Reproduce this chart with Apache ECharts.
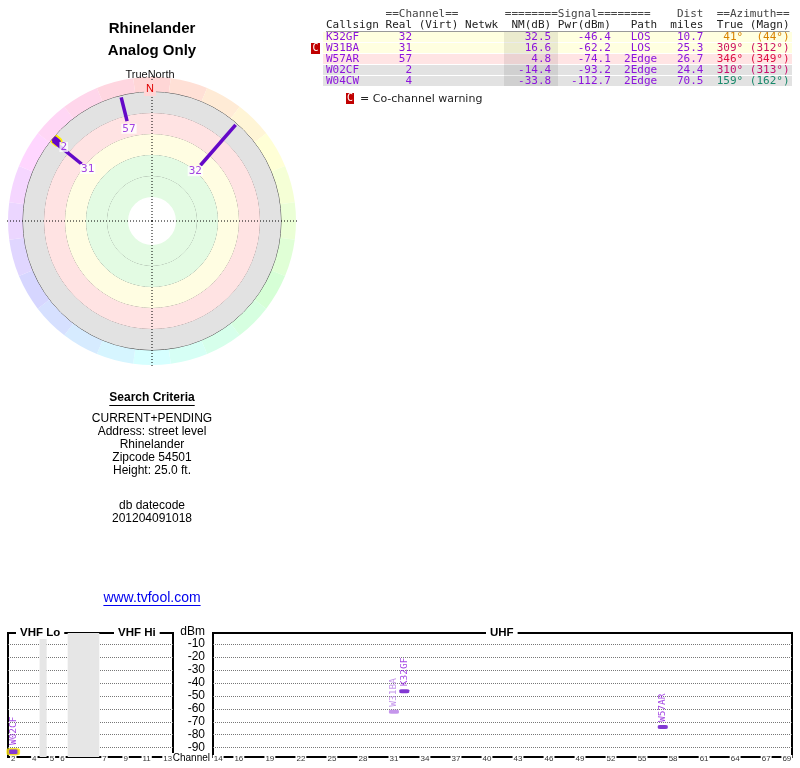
<!DOCTYPE html>
<html><head><meta charset="utf-8">
<script src="https://cdn.jsdelivr.net/npm/echarts@6/dist/echarts.min.js"></script>
<style>html,body{margin:0;padding:0;background:#fff}#c{width:800px;height:768px}</style>
</head><body><div id="c"></div>
<script>
// ---------------- data ----------------
const callsigns   = ['K32GF', 'W31BA', 'W57AR', 'W02CF', 'W04CW'];
const channels    = [32, 31, 57, 2, 4];
const nmDb        = [32.5, 16.6, 4.8, -14.4, -33.8];
const pwrDbm      = [-46.4, -62.2, -74.1, -93.2, -112.7];
const paths       = ['LOS', 'LOS', '2Edge', '2Edge', '2Edge'];
const distMiles   = [10.7, 25.3, 26.7, 24.4, 70.5];
const azTrue      = [41, 309, 346, 310, 159];
const azMagn      = [44, 312, 349, 313, 162];
const coChannel   = ['W31BA'];
const highlighted = ['W02CF'];
const nmRings     = [-20, 0, 20, 40, 60, 80];
const vhfTickChannels = [2, 4, 5, 6, 7, 9, 11, 13];
const uhfTickChannels = [14, 16, 19, 22, 25, 28, 31, 34, 37, 40, 43, 46, 49, 52, 55, 58, 61, 64, 67, 69];
const dbmTicks    = [-10, -20, -30, -40, -50, -60, -70, -80, -90];
const vhfGapsMHz  = [[72, 76], [88, 174]];
const searchLines = ['CURRENT+PENDING', 'Address: street level', 'Rhinelander', 'Zipcode 54501', 'Height: 25.0 ft.'];
const dbLines     = ['db datecode', '201204091018'];

// ---------------- styles ----------------
const rowBg   = ['#ffffe0', '#ffffe0', '#ffe4e4', '#e2e2e2', '#e2e2e2'];
const azColor = ['#d98200', '#cc1262', '#dd1042', '#c8106e', '#18886a'];
const LINE_PURPLE = '#6408c8';
const TEXT_PURPLE = '#8c14dc';
const LIGHT_PURPLE = '#b77ce6';
const MONO = "'DejaVu Sans Mono', monospace";
const SANS = "'Liberation Sans', Arial, sans-serif";
const CENTER = [152, 221];
const LINE_END_NM = -18.5;
const LABEL_INSET_DB = 7.5;
const FM_SQUEEZE = 68;
const DBM_MIN = -97.2, DBM_MAX = -1.5;

function compress(f) { return f >= 174 ? f - FM_SQUEEZE : f; }
function vhfPos(ch) {
  let f;
  if (ch <= 4) f = 54 + (ch - 2) * 6 + 3;
  else if (ch <= 6) f = 76 + (ch - 5) * 6 + 3;
  else f = 174 + (ch - 7) * 6 + 3;
  return compress(f);
}
const vhfTickPos = vhfTickChannels.map(vhfPos);
const vhfLabelMap = {};
vhfTickChannels.forEach((c, i) => { vhfLabelMap[vhfTickPos[i].toFixed(2)] = String(c); });

const cv = document.createElement('canvas').getContext('2d');
function tw(text, font) { cv.font = font; return cv.measureText(text).width; }
const monoFont = '11px ' + MONO;
const CW = tw('M'.repeat(70), monoFont) / 70;

const hueColors = Array.from({length: 24}, (_, i) => `hsl(${i * 15},100%,92%)`);

// ---------------- series ----------------
const series = [];
callsigns.forEach((cs, i) => {
  if (nmDb[i] <= nmRings[0]) return;
  const pts = [[nmDb[i], azTrue[i]], [LINE_END_NM, azTrue[i]]];
  const hl = highlighted.includes(cs);
  if (hl) series.push({type: 'line', coordinateSystem: 'polar', polarIndex: 1, data: pts, symbol: 'none', silent: true, z: 4,
    lineStyle: {color: '#ffee00', width: 10, cap: 'round'}});
  series.push({type: 'line', coordinateSystem: 'polar', polarIndex: 1, data: pts, symbol: 'none', silent: true, z: 5,
    lineStyle: {color: LINE_PURPLE, width: hl ? 6 : 3.5, cap: hl ? 'round' : 'butt'}});
});
series.push({
  type: 'scatter', coordinateSystem: 'polar', polarIndex: 1, symbolSize: 0, silent: true, z: 6,
  data: callsigns.map((cs, i) => ({value: [nmDb[i] + LABEL_INSET_DB, azTrue[i]], ch: channels[i]}))
                 .filter((d, i) => nmDb[i] > nmRings[0]),
  label: {show: true, position: 'inside', formatter: p => String(p.data.ch), color: TEXT_PURPLE,
    fontFamily: MONO, fontSize: 11, backgroundColor: '#fff', padding: [0, 1, -1, 1]}
});

// spectrum markers
const vhfData = [], uhfData = [];
callsigns.forEach((cs, i) => {
  if (pwrDbm[i] < DBM_MIN) return;
  const uhf = channels[i] >= 14;
  const co = coChannel.includes(cs);
  const hl = highlighted.includes(cs);
  const item = {
    value: [uhf ? channels[i] : vhfPos(channels[i]), pwrDbm[i]], name: cs,
    symbolSize: hl ? [11, 6] : [10, 4],
    itemStyle: {color: co ? LIGHT_PURPLE : LINE_PURPLE, borderColor: hl ? '#ffee00' : 'transparent', borderWidth: hl ? 2 : 0},
    label: {color: co ? LIGHT_PURPLE : TEXT_PURPLE}
  };
  (uhf ? uhfData : vhfData).push(item);
});
const markerLabel = {show: true, formatter: p => p.name, rotate: 90, position: 'top', distance: 3,
  align: 'left', verticalAlign: 'middle', fontFamily: MONO, fontSize: 9.5};
series.push({type: 'scatter', xAxisIndex: 0, yAxisIndex: 0, symbol: 'roundRect', data: vhfData, label: markerLabel, z: 5, silent: true,
  markArea: {silent: true, itemStyle: {color: '#e6e6e6'},
    data: vhfGapsMHz.map(g => [{xAxis: compress(g[0])}, {xAxis: compress(g[1])}])}});
series.push({type: 'scatter', xAxisIndex: 1, yAxisIndex: 1, symbol: 'roundRect', data: uhfData, label: markerLabel, z: 5, silent: true});

// ---------------- graphics (texts, table) ----------------
const g = [];
function text(x, y, str, opt) {
  g.push(Object.assign({type: 'text', x, y, silent: true, z: 20,
    style: Object.assign({text: str, fill: '#000', font: '12px ' + SANS, textAlign: 'center', textVerticalAlign: 'middle'}, opt || {})}));
}
function underline(cx, y, str, font, color) {
  const w = tw(str, font);
  g.push({type: 'line', silent: true, z: 20, shape: {x1: cx - w / 2, y1: y, x2: cx + w / 2, y2: y}, style: {stroke: color, lineWidth: 1}});
}
text(152, 29, 'Rhinelander', {font: 'bold 15px ' + SANS});
text(152, 51, 'Analog Only', {font: 'bold 15px ' + SANS});
text(150, 75, 'TrueNorth', {font: '11px ' + SANS, fill: '#111'});
text(150, 89, 'N', {font: '11px ' + SANS, fill: '#e00000', backgroundColor: hueColors[0], padding: [2, 2, 1, 2]});
text(152, 398, 'Search Criteria', {font: 'bold 12px ' + SANS});
underline(152, 405.5, 'Search Criteria', 'bold 12px ' + SANS, '#000');
searchLines.forEach((s, i) => text(152, 419 + i * 13, s));
dbLines.forEach((s, i) => text(152, 506 + i * 13, s));
text(152, 598, 'www.tvfool.com', {font: '14px ' + SANS, fill: '#0000ee'});
underline(152, 605.5, 'www.tvfool.com', '14px ' + SANS, '#0000ee');

// spectrum frame texts
text(16, 633, 'VHF Lo', {font: 'bold 11.5px ' + SANS, textAlign: 'left', backgroundColor: '#fff', padding: [0, 4]});
text(114, 633, 'VHF Hi', {font: 'bold 11.5px ' + SANS, textAlign: 'left', backgroundColor: '#fff', padding: [0, 4]});
text(486, 633, 'UHF', {font: 'bold 11.5px ' + SANS, textAlign: 'left', backgroundColor: '#fff', padding: [0, 4]});
text(205, 632, 'dBm', {font: '12px ' + SANS, textAlign: 'right'});
text(211, 758, 'Channel', {font: '10px ' + SANS, textAlign: 'right', backgroundColor: '#fff', padding: [0, 1]});

// table
const X0 = 326;
const header1 = ' '.repeat(9) + '==Channel==' + ' '.repeat(7) + '========Signal========' + ' '.repeat(4) + 'Dist' + '  ' + '==Azimuth==';
const header2 = 'Callsign Real (Virt) Netwk  NM(dB) Pwr(dBm)   Path  miles  True (Magn)';
function center5(s) { const p = 5 - s.length; const l = Math.floor(p / 2); return ' '.repeat(l) + s + ' '.repeat(p - l); }
callsigns.forEach((cs, i) => {
  g.push({type: 'rect', silent: true, z: 10, shape: {x: 323, y: 32 + i * 11, width: 469, height: 10}, style: {fill: rowBg[i]}});
});
g.push({type: 'rect', silent: true, z: 11, shape: {x: 504, y: 32, width: 54, height: 54}, style: {fill: 'rgba(0,0,0,0.08)'}});
text(X0, 14.5, header1, {font: monoFont, fill: '#444', textAlign: 'left'});
text(X0, 25.5, header2, {font: monoFont, fill: '#222', textAlign: 'left'});
g.push({type: 'line', silent: true, z: 12, shape: {x1: X0, y1: 31.5, x2: X0 + 70 * CW, y2: 31.5}, style: {stroke: '#999', lineWidth: 1}});
callsigns.forEach((cs, i) => {
  const y = 37.5 + i * 11;
  const left = cs.padEnd(8) + ' ' + String(channels[i]).padStart(4) + ' '.repeat(15) +
    nmDb[i].toFixed(1).padStart(6) + ' ' + pwrDbm[i].toFixed(1).padStart(8) + '  ' + center5(paths[i]) +
    distMiles[i].toFixed(1).padStart(7);
  const az = (azTrue[i] + '°').padStart(4) + ' ' + ('(' + azMagn[i] + '°)').padStart(6);
  text(X0, y, left, {font: monoFont, fill: TEXT_PURPLE, textAlign: 'left'});
  text(X0 + 59 * CW, y, az, {font: monoFont, fill: azColor[i], textAlign: 'left'});
  if (coChannel.includes(cs)) {
    g.push({type: 'rect', silent: true, z: 12, shape: {x: 311, y: y - 5.5, width: 9, height: 11}, style: {fill: '#c00000'}});
    text(315.5, y, 'C', {font: '10px ' + MONO, fill: '#fff'});
  }
});
g.push({type: 'rect', silent: true, z: 12, shape: {x: 346, y: 93, width: 8, height: 11}, style: {fill: '#c00000'}});
text(350, 98.5, 'C', {font: '10px ' + MONO, fill: '#fff'});
text(360, 99, '= Co-channel warning', {font: "11px 'DejaVu Sans', sans-serif", fill: '#222', textAlign: 'left'});

// ---------------- option ----------------
const splitDotted = {show: true, lineStyle: {color: '#777', type: 'dotted', width: 1}};
const bottomLabel = {fontSize: 8, color: '#333', fontFamily: SANS, backgroundColor: '#fff', padding: [0, 1],
  verticalAlign: 'middle', margin: 2};
const option = {
  animation: false,
  backgroundColor: '#fff',
  polar: [
    {center: CENTER, radius: [129, 144]},
    {center: CENTER, radius: [24, 129]},
    {center: CENTER, radius: [0, 145]}
  ],
  angleAxis: [
    {polarIndex: 0, type: 'category', data: hueColors.map((c, i) => i), startAngle: 97.5, clockwise: true, boundaryGap: true,
      axisLine: {show: false}, axisTick: {show: false}, axisLabel: {show: false}, splitLine: {show: false},
      splitArea: {show: true, areaStyle: {color: hueColors}}, z: 0},
    {polarIndex: 1, type: 'value', min: 0, max: 360, startAngle: 90, clockwise: true, show: false},
    {polarIndex: 2, type: 'value', min: 0, max: 360, interval: 90, startAngle: 90, clockwise: true,
      axisLine: {show: false}, axisTick: {show: false}, axisLabel: {show: false},
      splitLine: {show: true, lineStyle: {color: '#000', type: [1, 2], width: 1}}, z: 3}
  ],
  radiusAxis: [
    {polarIndex: 0, type: 'value', show: false},
    {polarIndex: 1, type: 'value', min: nmRings[0], max: nmRings[nmRings.length - 1], interval: 20, inverse: true,
      axisLine: {show: false}, axisTick: {show: false}, axisLabel: {show: false}, z: 1,
      splitLine: {show: true, lineStyle: {color: ['#4a4a4a', '#4a4a4a', '#4a4a4a', '#4a4a4a', '#4a4a4a', 'rgba(0,0,0,0)'], width: 1}},
      splitArea: {show: true, areaStyle: {color: ['#e2e2e2', '#ffe3e3', '#fffde2', '#e3fbe3', '#e3fbe3']}}},
    {polarIndex: 2, type: 'value', show: false}
  ],
  grid: [
    {left: 8, top: 633, width: 165, height: 124, show: true, borderColor: '#000', borderWidth: 2, backgroundColor: '#fff'},
    {left: 213, top: 633, width: 579, height: 124, show: true, borderColor: '#000', borderWidth: 2, backgroundColor: '#fff'}
  ],
  xAxis: [
    {gridIndex: 0, type: 'value', min: 54, max: compress(216), axisLine: {show: false}, axisTick: {show: false},
      splitLine: {show: false}, z: 5,
      axisLabel: Object.assign({customValues: vhfTickPos, formatter: v => vhfLabelMap[v.toFixed(2)] || ''}, bottomLabel)},
    {gridIndex: 1, type: 'value', min: 13.5, max: 69.5, axisLine: {show: false}, axisTick: {show: false},
      splitLine: {show: false}, z: 5,
      axisLabel: Object.assign({customValues: uhfTickChannels, formatter: v => String(v)}, bottomLabel)}
  ],
  yAxis: [
    {gridIndex: 0, type: 'value', min: DBM_MIN, max: DBM_MAX, axisLine: {show: false},
      axisTick: {show: false, customValues: dbmTicks}, axisLabel: {show: false}, splitLine: splitDotted},
    {gridIndex: 1, type: 'value', min: DBM_MIN, max: DBM_MAX, axisLine: {show: false},
      axisTick: {show: false, customValues: dbmTicks},
      axisLabel: {customValues: dbmTicks, margin: 8, fontSize: 12, color: '#000', fontFamily: SANS},
      splitLine: splitDotted}
  ],
  series,
  graphic: {elements: g}
};
const chart = echarts.init(document.getElementById('c'));
chart.setOption(option);
</script>
</body></html>
